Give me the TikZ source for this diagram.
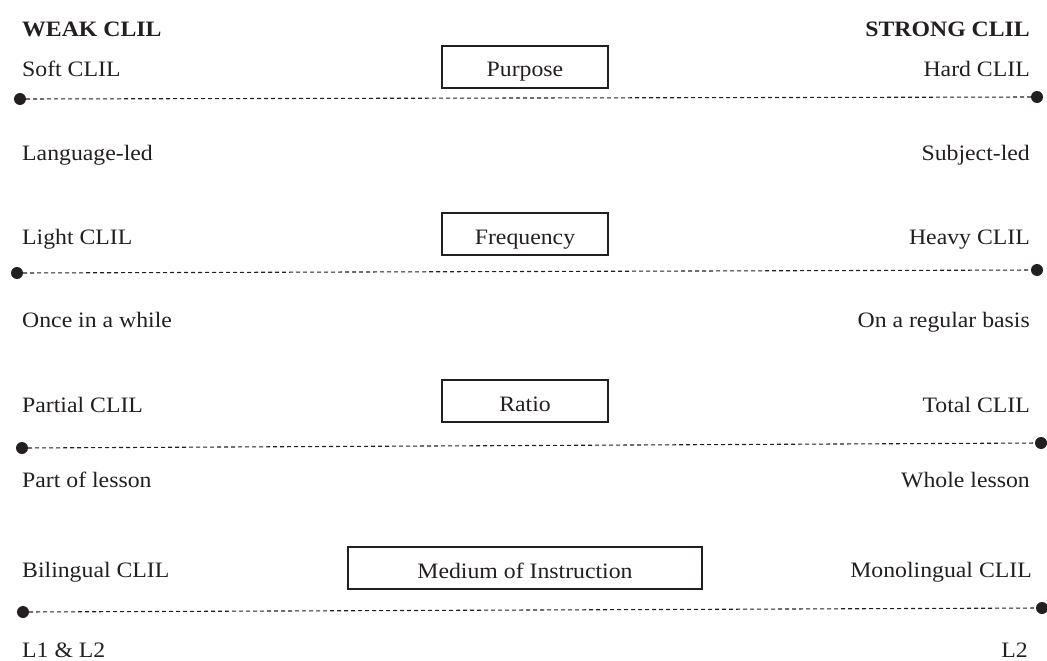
\documentclass[tikz,border=0pt]{standalone}
\usepackage{fontspec}
\setmainfont{Liberation Serif}[FakeStretch=1.08]
\definecolor{ink}{HTML}{231F20}
\begin{document}
\begin{tikzpicture}[x=1pt,y=-1pt,
  every node/.style={text=ink},
  lbl/.style={inner sep=0pt,font=\fontsize{22}{26}\selectfont},
  lleft/.style={lbl,anchor=base west},
  lright/.style={lbl,anchor=base east},
  hdr/.style={inner sep=0pt,font=\fontsize{22}{26}\selectfont\bfseries},
  dimbox/.style={draw=ink,line width=1.8pt,minimum height=42pt,inner sep=0pt,
    text height=20pt,text depth=0pt,font=\fontsize{22}{26}\selectfont},
  dot/.style={circle,fill=ink,inner sep=0pt,minimum size=12pt},
  dashline/.style={draw=ink,line width=1.1pt,dash pattern=on 4pt off 3pt}]
\useasboundingbox (0,0) rectangle (1047,661);
% headers
\node[hdr,anchor=base west] (weak) at (22,37) {WEAK CLIL};
\node[hdr,anchor=base east] (strong) at (1030,37) {STRONG CLIL};
% row 1
\node[lleft] (soft) at (22,77) {Soft CLIL};
\node[lright] (hard) at (1030,77) {Hard CLIL};
\node[dimbox,minimum width=166pt] (purpose) at (525,67) {Purpose};
\node[dot] (d1a) at (20,99) {};
\node[dot] (d1b) at (1037,97) {};
\draw[dashline] (d1a) -- (d1b);
\node[lleft] (lang) at (22,160) {Language-led};
\node[lright] (subj) at (1030,160) {Subject-led};
% row 2
\node[lleft] (light) at (22,244) {Light CLIL};
\node[lright] (heavy) at (1030,244) {Heavy CLIL};
\node[dimbox,minimum width=166pt] (freq) at (525,234) {Frequency};
\node[dot] (d2a) at (17,273) {};
\node[dot] (d2b) at (1037,270) {};
\draw[dashline] (d2a) -- (d2b);
\node[lleft] (once) at (22,327) {Once in a while};
\node[lright] (regular) at (1030,327) {On a regular basis};
% row 3
\node[lleft] (partial) at (22,412) {Partial CLIL};
\node[lright] (total) at (1030,412) {Total CLIL};
\node[dimbox,minimum width=166pt] (ratio) at (525,401) {Ratio};
\node[dot] (d3a) at (22,448) {};
\node[dot] (d3b) at (1041,443) {};
\draw[dashline] (d3a) -- (d3b);
\node[lleft] (part) at (22,487) {Part of lesson};
\node[lright] (whole) at (1030,487) {Whole lesson};
% row 4
\node[lleft] (bil) at (22,577) {Bilingual CLIL};
\node[lright] (mono) at (1032,577) {Monolingual CLIL};
\node[dimbox,minimum width=354pt] (medium) at (525,568) {Medium of Instruction};
\node[dot] (d4a) at (23,612) {};
\node[dot] (d4b) at (1042,608) {};
\draw[dashline] (d4a) -- (d4b);
\node[lleft] (l1l2) at (22,657) {L1 \& L2};
\node[lright] (l2) at (1028,657) {L2};
\end{tikzpicture}
\end{document}
